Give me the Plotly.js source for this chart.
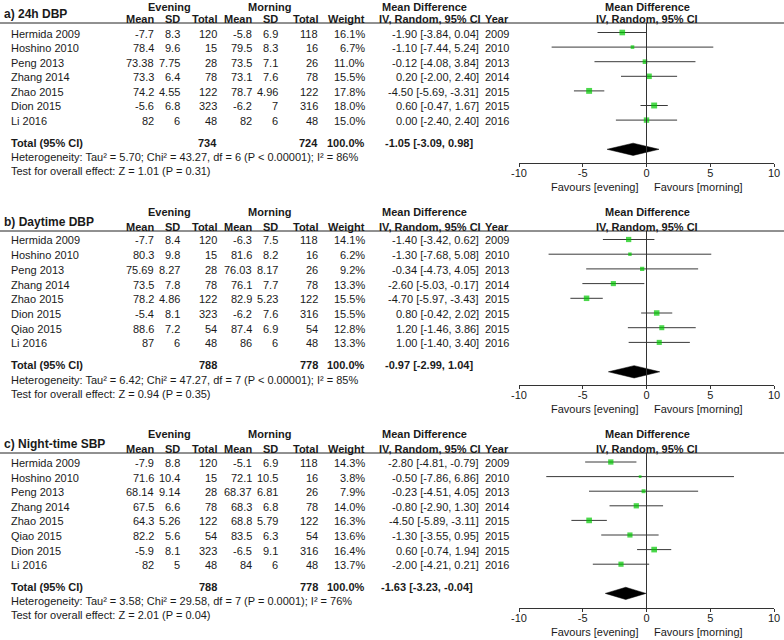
<!DOCTYPE html>
<html><head><meta charset="utf-8">
<script src="https://cdn.plot.ly/plotly-3.0.1.min.js"></script>
<style>html,body{margin:0;padding:0;background:#fff}</style>
</head><body><div id="chart" style="width:784px;height:640px"></div>
<script>
// ---------- Panel a) 24h DBP ----------
const aStudies = ["Hermida 2009","Hoshino 2010","Peng 2013","Zhang 2014","Zhao 2015","Dion 2015","Li 2016"];
const aEvMean = [-7.7, 78.4, 73.38, 73.3, 74.2, -5.6, 82];
const aEvSD   = [8.3, 9.6, 7.75, 6.4, 4.55, 6.8, 6];
const aEvN    = [120, 15, 28, 78, 122, 323, 48];
const aMoMean = [-5.8, 79.5, 73.5, 73.1, 78.7, -6.2, 82];
const aMoSD   = [6.9, 8.3, 7.1, 7.6, 4.96, 7, 6];
const aMoN    = [118, 16, 26, 78, 122, 316, 48];
const aWeight = [16.1, 6.7, 11.0, 15.5, 17.8, 18.0, 15.0];
const aMD     = [-1.90, -1.10, -0.12, 0.20, -4.50, 0.60, 0.00];
const aLo     = [-3.84, -7.44, -4.08, -2.00, -5.69, -0.47, -2.40];
const aHi     = [0.04, 5.24, 3.84, 2.40, -3.31, 1.67, 2.40];
const aYear   = [2009, 2010, 2013, 2014, 2015, 2015, 2016];
const aTotal  = {evN:734, moN:724, md:-1.05, lo:-3.09, hi:0.98};
const aHet    = "Heterogeneity: Tau² = 5.70; Chi² = 43.27, df = 6 (P &lt; 0.00001); I² = 86%";
const aTest   = "Test for overall effect: Z = 1.01 (P = 0.31)";

// ---------- Panel b) Daytime DBP ----------
const bStudies = ["Hermida 2009","Hoshino 2010","Peng 2013","Zhang 2014","Zhao 2015","Dion 2015","Qiao 2015","Li 2016"];
const bEvMean = [-7.7, 80.3, 75.69, 73.5, 78.2, -5.4, 88.6, 87];
const bEvSD   = [8.4, 9.8, 8.27, 7.8, 4.86, 8.1, 7.2, 6];
const bEvN    = [120, 15, 28, 78, 122, 323, 54, 48];
const bMoMean = [-6.3, 81.6, 76.03, 76.1, 82.9, -6.2, 87.4, 86];
const bMoSD   = [7.5, 8.2, 8.17, 7.7, 5.23, 7.6, 6.9, 6];
const bMoN    = [118, 16, 26, 78, 122, 316, 54, 48];
const bWeight = [14.1, 6.2, 9.2, 13.3, 15.5, 15.5, 12.8, 13.3];
const bMD     = [-1.40, -1.30, -0.34, -2.60, -4.70, 0.80, 1.20, 1.00];
const bLo     = [-3.42, -7.68, -4.73, -5.03, -5.97, -0.42, -1.46, -1.40];
const bHi     = [0.62, 5.08, 4.05, -0.17, -3.43, 2.02, 3.86, 3.40];
const bYear   = [2009, 2010, 2013, 2014, 2015, 2015, 2015, 2016];
const bTotal  = {evN:788, moN:778, md:-0.97, lo:-2.99, hi:1.04};
const bHet    = "Heterogeneity: Tau² = 6.42; Chi² = 47.27, df = 7 (P &lt; 0.00001); I² = 85%";
const bTest   = "Test for overall effect: Z = 0.94 (P = 0.35)";

// ---------- Panel c) Night-time SBP ----------
const cStudies = ["Hermida 2009","Hoshino 2010","Peng 2013","Zhang 2014","Zhao 2015","Qiao 2015","Dion 2015","Li 2016"];
const cEvMean = [-7.9, 71.6, 68.14, 67.5, 64.3, 82.2, -5.9, 82];
const cEvSD   = [8.8, 10.4, 9.14, 6.6, 5.26, 5.6, 8.1, 5];
const cEvN    = [120, 15, 28, 78, 122, 54, 323, 48];
const cMoMean = [-5.1, 72.1, 68.37, 68.3, 68.8, 83.5, -6.5, 84];
const cMoSD   = [6.9, 10.5, 6.81, 6.8, 5.79, 6.3, 9.1, 6];
const cMoN    = [118, 16, 26, 78, 122, 54, 316, 48];
const cWeight = [14.3, 3.8, 7.9, 14.0, 16.3, 13.6, 16.4, 13.7];
const cMD     = [-2.80, -0.50, -0.23, -0.80, -4.50, -1.30, 0.60, -2.00];
const cLo     = [-4.81, -7.86, -4.51, -2.90, -5.89, -3.55, -0.74, -4.21];
const cHi     = [-0.79, 6.86, 4.05, 1.30, -3.11, 0.95, 1.94, 0.21];
const cYear   = [2009, 2010, 2013, 2014, 2015, 2015, 2015, 2016];
const cTotal  = {evN:788, moN:778, md:-1.63, lo:-3.23, hi:-0.04};
const cHet    = "Heterogeneity: Tau² = 3.58; Chi² = 29.58, df = 7 (P = 0.0001); I² = 76%";
const cTest   = "Test for overall effect: Z = 2.01 (P = 0.04)";

const xTickVals = [-10, -5, 0, 5, 10];
const xTickText = ["-10", "-5", "0", "5", "10"];

// ---------- layout helpers ----------
const W = 784, H = 640;
const FONT = "Liberation Sans, Arial, sans-serif";
const TXT = "#1a1a1a";
const FS = 11;

const panels = [
  {label:"a) 24h DBP", studies:aStudies, evMean:aEvMean, evSD:aEvSD, evN:aEvN, moMean:aMoMean, moSD:aMoSD, moN:aMoN,
   weight:aWeight, md:aMD, lo:aLo, hi:aHi, year:aYear, total:aTotal, het:aHet, test:aTest,
   geo:{row0:32.5, dy:14.6, L:23, axis:163}},
  {label:"b) Daytime DBP", studies:bStudies, evMean:bEvMean, evSD:bEvSD, evN:bEvN, moMean:bMoMean, moSD:bMoSD, moN:bMoN,
   weight:bWeight, md:bMD, lo:bLo, hi:bHi, year:bYear, total:bTotal, het:bHet, test:bTest,
   geo:{row0:239.5, dy:14.7, L:231, axis:385}},
  {label:"c) Night-time SBP", studies:cStudies, evMean:cEvMean, evSD:cEvSD, evN:cEvN, moMean:cMoMean, moSD:cMoSD, moN:cMoN,
   weight:cWeight, md:cMD, lo:cLo, hi:cHi, year:cYear, total:cTotal, het:cHet, test:cTest,
   geo:{row0:462, dy:14.6, L:453, axis:608}}
];

const COL = {name:10, evMean:155, evSD:181, evN:218, moMean:253, moSD:279, moN:319, weight:366, ci:480, year:510};
const PLOT_L = 519, PLOT_R = 774;

const traces = [];
const annotations = [];
const shapes = [];
const layout = {
  width: W, height: H,
  margin: {l:0, r:0, t:0, b:0},
  paper_bgcolor: "#fff", plot_bgcolor: "#fff",
  showlegend: false,
  font: {family: FONT, size: FS, color: TXT}
};

function ann(text, xPix, yPix, xanchor, opts) {
  opts = opts || {};
  annotations.push({
    text: opts.bold ? "<b>" + text + "</b>" : text,
    x: xPix / W, y: 1 - yPix / H, xref: "paper", yref: "paper",
    xanchor: xanchor, yanchor: "middle", showarrow: false, borderpad: 0,
    font: {family: FONT, size: opts.size || FS, color: TXT}
  });
}
const fmtCI = (m, l, h) => m.toFixed(2) + " [" + l.toFixed(2) + ", " + h.toFixed(2) + "]";

panels.forEach((p, k) => {
  const g = p.geo;
  const n = p.studies.length;
  const sfx = k === 0 ? "" : String(k + 1);
  const xa = "x" + sfx, ya = "y" + sfx;

  // y axis in row-index units, mapped to pixel geometry
  const botIdx = (g.axis - g.row0) / g.dy;
  const topIdx = (g.L - g.row0) / g.dy;
  layout["yaxis" + sfx] = {
    domain: [1 - g.axis / H, 1 - g.L / H], range: [botIdx, topIdx],
    visible: false, showgrid: false, zeroline: false, fixedrange: true, anchor: xa
  };
  layout["xaxis" + sfx] = {
    domain: [PLOT_L / W, PLOT_R / W], range: [-10, 10], anchor: ya,
    tickvals: xTickVals, ticktext: xTickText,
    showline: true, linecolor: "#333", linewidth: 1,
    ticks: "outside", ticklen: 3, tickcolor: "#333", tickwidth: 1,
    ticklabelstandoff: -3,
    showgrid: false, zeroline: false, fixedrange: true,
    tickfont: {family: FONT, size: FS, color: TXT}
  };

  const rows = p.studies.map((_, i) => i);
  // study CIs + weight squares
  traces.push({
    type: "scatter", mode: "markers", xaxis: xa, yaxis: ya,
    x: p.md, y: rows,
    marker: {symbol: "square", color: "#00c800", size: p.weight.map(w => 1.4 * Math.sqrt(w)), line: {width: 0}},
    error_x: {type: "data", symmetric: false,
      array: p.hi.map((h, i) => h - p.md[i]), arrayminus: p.lo.map((l, i) => p.md[i] - l),
      width: 0, thickness: 1, color: "#3a3a3a"},
    cliponaxis: false, hoverinfo: "skip"
  });
  // pooled diamond
  const t = p.total, dyI = n + 1, hh = 0.42;
  traces.push({
    type: "scatter", mode: "lines", xaxis: xa, yaxis: ya,
    x: [t.lo, t.md, t.hi, t.md, t.lo], y: [dyI, dyI - hh, dyI, dyI + hh, dyI],
    fill: "toself", fillcolor: "#000", line: {color: "#000", width: 0.5}, hoverinfo: "skip"
  });

  // zero line
  shapes.push({type: "line", xref: xa, yref: ya + " domain", x0: 0, x1: 0, y0: 0, y1: 1,
    line: {color: "#333", width: 1}});
  // header rule
  shapes.push({type: "line", xref: "paper", yref: "paper", x0: 0, x1: 1,
    y0: 1 - g.L / H, y1: 1 - g.L / H, line: {color: "#222", width: 1}});

  // headers
  const ey = Math.max(g.L - 19, 7);
  ann(p.label, 3, g.L - 9, "left", {bold: true, size: 12});
  ann("Evening", 169, ey, "center", {bold: true});
  ann("Morning", 269, ey, "center", {bold: true});
  ann("Mean Difference", 381, ey, "left", {bold: true});
  ann("Mean Difference", 647, ey, "center", {bold: true});
  const hy = g.L - 4.5;
  ann("Mean", COL.evMean, hy, "right", {bold: true});
  ann("SD", COL.evSD, hy, "right", {bold: true});
  ann("Total", COL.evN, hy, "right", {bold: true});
  ann("Mean", COL.moMean, hy, "right", {bold: true});
  ann("SD", COL.moSD, hy, "right", {bold: true});
  ann("Total", COL.moN, hy, "right", {bold: true});
  ann("Weight", COL.weight, hy, "right", {bold: true});
  ann("IV, Random, 95% CI", 482, hy, "right", {bold: true});
  ann("Year", COL.year, hy, "right", {bold: true});
  ann("IV, Random, 95% CI", 647, hy, "center", {bold: true});

  // study rows
  p.studies.forEach((s, i) => {
    const y = g.row0 + i * g.dy + 1;
    ann(s, COL.name, y, "left");
    ann(String(p.evMean[i]), COL.evMean, y, "right");
    ann(String(p.evSD[i]), COL.evSD, y, "right");
    ann(String(p.evN[i]), COL.evN, y, "right");
    ann(String(p.moMean[i]), COL.moMean, y, "right");
    ann(String(p.moSD[i]), COL.moSD, y, "right");
    ann(String(p.moN[i]), COL.moN, y, "right");
    ann(p.weight[i].toFixed(1) + "%", COL.weight, y, "right");
    ann(fmtCI(p.md[i], p.lo[i], p.hi[i]), COL.ci, y, "right");
    ann(String(p.year[i]), COL.year, y, "right");
  });

  // total row
  const ty = g.row0 + (n + 0.55) * g.dy;
  ann("Total (95% CI)", COL.name, ty, "left", {bold: true});
  ann(String(t.evN), COL.evN, ty, "right", {bold: true});
  ann(String(t.moN), COL.moN, ty, "right", {bold: true});
  ann("100.0%", COL.weight, ty, "right", {bold: true});
  ann(fmtCI(t.md, t.lo, t.hi), 474, ty, "right", {bold: true});
  ann(p.het, COL.name, ty + 14.5, "left");
  ann(p.test, COL.name, ty + 28.5, "left");

  // favours labels
  ann("Favours [evening]", 639, g.axis + 24, "right");
  ann("Favours [morning]", 653, g.axis + 24, "left");
});

layout.annotations = annotations;
layout.shapes = shapes;
Plotly.newPlot("chart", traces, layout, {staticPlot: true, displayModeBar: false});
</script></body></html>
